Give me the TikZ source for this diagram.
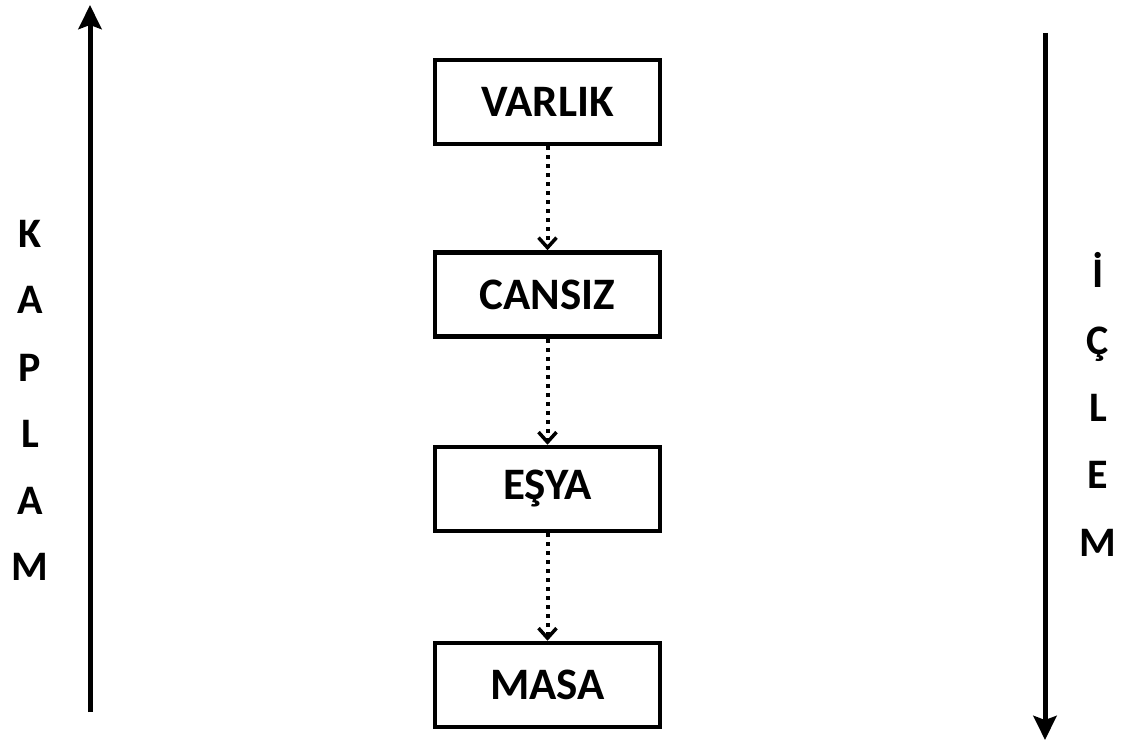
\documentclass[tikz,border=0pt]{standalone}
\usepackage{fontspec}
\setmainfont{Carlito}
\usetikzlibrary{arrows.meta}
\begin{document}
\begin{tikzpicture}[x=1pt,y=-1pt,
  box/.style={draw,line width=4.5pt,minimum width=225pt,minimum height=84pt,inner sep=0pt,font=\fontsize{45}{45}\selectfont\bfseries},
  letter/.style={font=\fontsize{42}{42}\selectfont\bfseries,inner sep=0pt,anchor=base},
  dotarrow/.style={line width=4pt,dash pattern=on 4pt off 5pt,-{Straight Barb[length=10pt,width=18pt,line width=3.5pt]}},
  bigarrow/.style={line width=5pt,-{Stealth[length=24pt,width=23pt,inset=4pt]}}]
\useasboundingbox (0,0) rectangle (1127,743);
\node[box] (v) at (547.5,102) {VARLIK};
\node[box] (c) at (547.5,294.5) {CANSIZ};
\node[box] (e) at (547.5,489) {EŞYA};
\node[box] (m) at (547.5,685) {MASA};
\draw[dotarrow] (v) -- (c);
\draw[dotarrow] (c) -- (e);
\draw[dotarrow] (e) -- (m);
\coordinate (l0) at (90,712);
\coordinate (l1) at (90,5);
\coordinate (r0) at (1045,33);
\coordinate (r1) at (1045,740);
\draw[bigarrow] (l0) -- (l1);
\draw[bigarrow] (r0) -- (r1);
\node[letter] (k1) at (30,248) {K};
\node[letter] (k2) at (30,314) {A};
\node[letter] (k3) at (30,381) {P};
\node[letter] (k4) at (30,447) {L};
\node[letter] (k5) at (30,514) {A};
\node[letter] (k6) at (30,580) {M};
\node[letter] (i1) at (1098,288) {İ};
\node[letter] (i2) at (1098,354) {Ç};
\node[letter] (i3) at (1098,421) {L};
\node[letter] (i4) at (1098,488) {E};
\node[letter] (i5) at (1098,556) {M};
\end{tikzpicture}
\end{document}
